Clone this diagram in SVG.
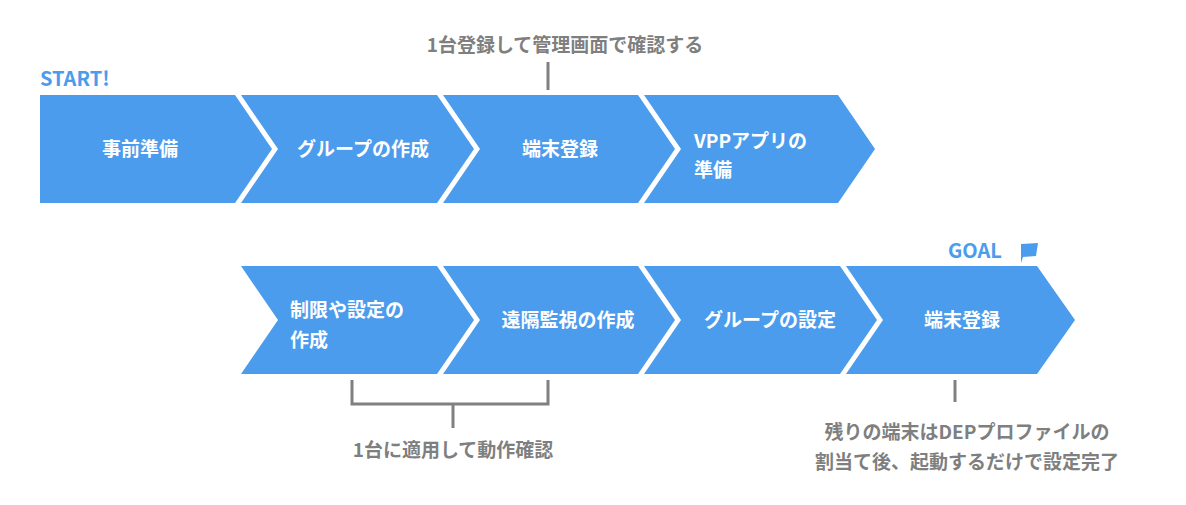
<svg xmlns="http://www.w3.org/2000/svg" width="1186" height="505" viewBox="0 0 1186 505">
<style>
.c{fill:#4b9ced}
.t{fill:#fff;font-family:"Noto Sans CJK JP","Noto Sans",sans-serif;font-weight:bold;font-size:19px}
.g{fill:#7f7f7f;font-family:"Noto Sans CJK JP","Noto Sans",sans-serif;font-weight:bold;font-size:19px}
.b{fill:#4b9ced;font-family:"Noto Sans CJK JP","Noto Sans",sans-serif;font-weight:bold;font-size:20px}
.l{stroke:#808080;stroke-width:3;fill:none}
</style>
<rect width="1186" height="505" fill="#fff"/>
<text class="b" x="40" y="86">START!</text>
<text class="b" x="948" y="258">GOAL</text>
<path d="M1021,244 L1038,243 L1036,256 L1023,257 L1021,263 Z" fill="#4b9ced"/>
<g id="n1"><polygon class="c" points="40,95 235,95 272,149 235,203 40,203"/><text class="t" x="140" y="156" text-anchor="middle">事前準備</text></g>
<g id="n2"><polygon class="c" points="241,95 437,95 474,149 437,203 241,203 278,149"/><text class="t" x="363" y="156" text-anchor="middle">グループの作成</text></g>
<g id="n3"><polygon class="c" points="443,95 638,95 675,149 638,203 443,203 480,149"/><text class="t" x="560" y="156" text-anchor="middle">端末登録</text></g>
<g id="n4"><polygon class="c" points="644,95 838,95 875,149 838,203 644,203 681,149"/><text class="t" x="694" y="148">VPPアプリの</text><text class="t" x="694" y="177">準備</text></g>
<g id="n5"><polygon class="c" points="241,266 437,266 474,320 437,374 241,374 278,320"/><text class="t" x="290" y="317">制限や設定の</text><text class="t" x="290" y="347">作成</text></g>
<g id="n6"><polygon class="c" points="443,266 638,266 675,320 638,374 443,374 480,320"/><text class="t" x="568" y="327" text-anchor="middle">遠隔監視の作成</text></g>
<g id="n7"><polygon class="c" points="644,266 840,266 877,320 840,374 644,374 681,320"/><text class="t" x="770" y="327" text-anchor="middle">グループの設定</text></g>
<g id="n8"><polygon class="c" points="846,266 1037,266 1075,320 1037,374 846,374 883,320"/><text class="t" x="962" y="327" text-anchor="middle">端末登録</text></g>
<g id="connectors">
<path class="l" d="M548,62 V90"/>
<path class="l" d="M352,380 V404 H548 V380 M453,404 V428"/>
<path class="l" d="M955,380 V402"/>
</g>
<text class="g" x="565" y="52" text-anchor="middle">1台登録して管理画面で確認する</text>
<text class="g" x="453" y="457" text-anchor="middle">1台に適用して動作確認</text>
<text class="g" x="967" y="439" text-anchor="middle">残りの端末はDEPプロファイルの</text>
<text class="g" x="967" y="469" text-anchor="middle">割当て後、起動するだけで設定完了</text>
</svg>
